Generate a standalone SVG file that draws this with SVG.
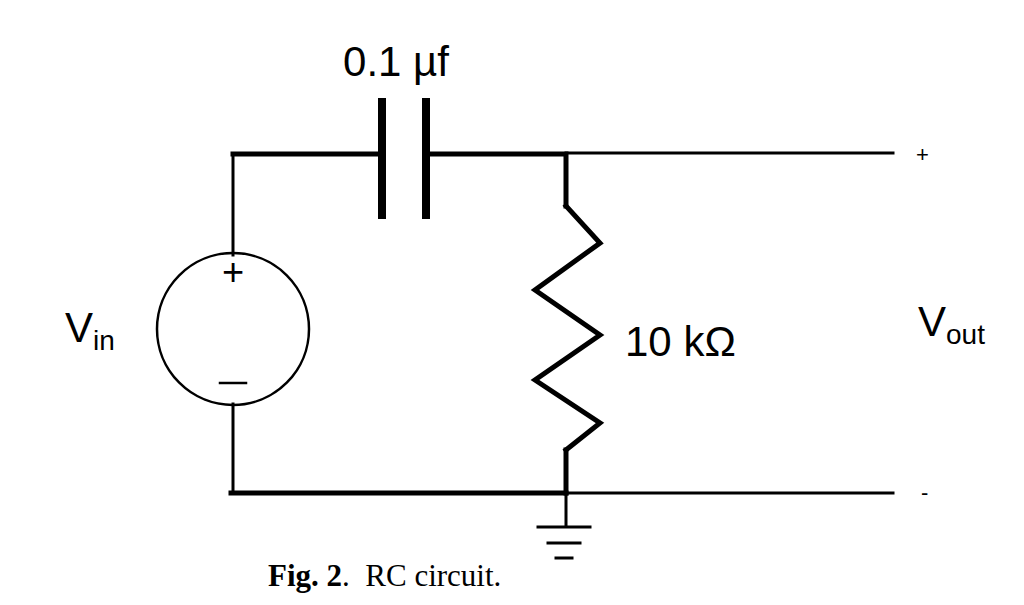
<svg xmlns="http://www.w3.org/2000/svg" width="1024" height="605" viewBox="0 0 1024 605">
<style>
.w{stroke:#000;fill:none;stroke-linecap:square}
.t{font-family:"Liberation Sans",Arial,sans-serif;fill:#000}
</style>
<rect width="1024" height="605" fill="#fff"/>
<g id="connectors">
<path class="w" stroke-width="3" d="M233,255 V154"/>
<path class="w" stroke-width="5" d="M233,154 H380 M427,154 H566 V206"/>
<path class="w" stroke-width="3" d="M566,153 H893"/>
<path class="w" stroke-width="3" d="M233,404 V493"/>
<path class="w" stroke-width="5" d="M231,493 H566"/>
<path class="w" stroke-width="3" d="M566,493 H893"/>
<path class="w" stroke-width="5" d="M566,450 V493"/>
</g>
<g id="capacitor">
<path class="w" stroke-width="8" stroke-linecap="butt" d="M382,102 V215 M426,102 V215"/>
<text class="t" x="396" y="76" font-size="42" text-anchor="middle">0.1 µf</text>
</g>
<g id="resistor">
<polyline class="w" stroke-width="5" stroke-linejoin="miter" points="566,206 600,243 535,290 600,335 535,380 600,423 566,450"/>
<text class="t" x="625" y="356" font-size="42">10 kΩ</text>
</g>
<g id="source">
<circle cx="233" cy="329" r="76" fill="none" stroke="#000" stroke-width="2.5"/>
<text class="t" x="233" y="285" font-size="38" text-anchor="middle">+</text>
<path class="w" stroke-width="2.5" stroke-linecap="butt" d="M220,383 H246"/>
<text class="t" x="65" y="342" font-size="42">V<tspan font-size="28" dy="8">in</tspan></text>
</g>
<g id="ground">
<path class="w" stroke-width="3" stroke-linecap="butt" d="M566,493 V527 M538,527 H590 M548,543 H580 M556,558 H572"/>
</g>
<g id="output">
<text class="t" x="916" y="162" font-size="22">+</text>
<text class="t" x="921" y="500" font-size="22">-</text>
<text class="t" x="918" y="336" font-size="42">V<tspan font-size="28" dy="8">out</tspan></text>
</g>
<text x="268" y="586" font-family="'Liberation Serif',serif" font-size="31" xml:space="preserve"><tspan font-weight="bold">Fig. 2</tspan>.  RC circuit.</text>
</svg>
